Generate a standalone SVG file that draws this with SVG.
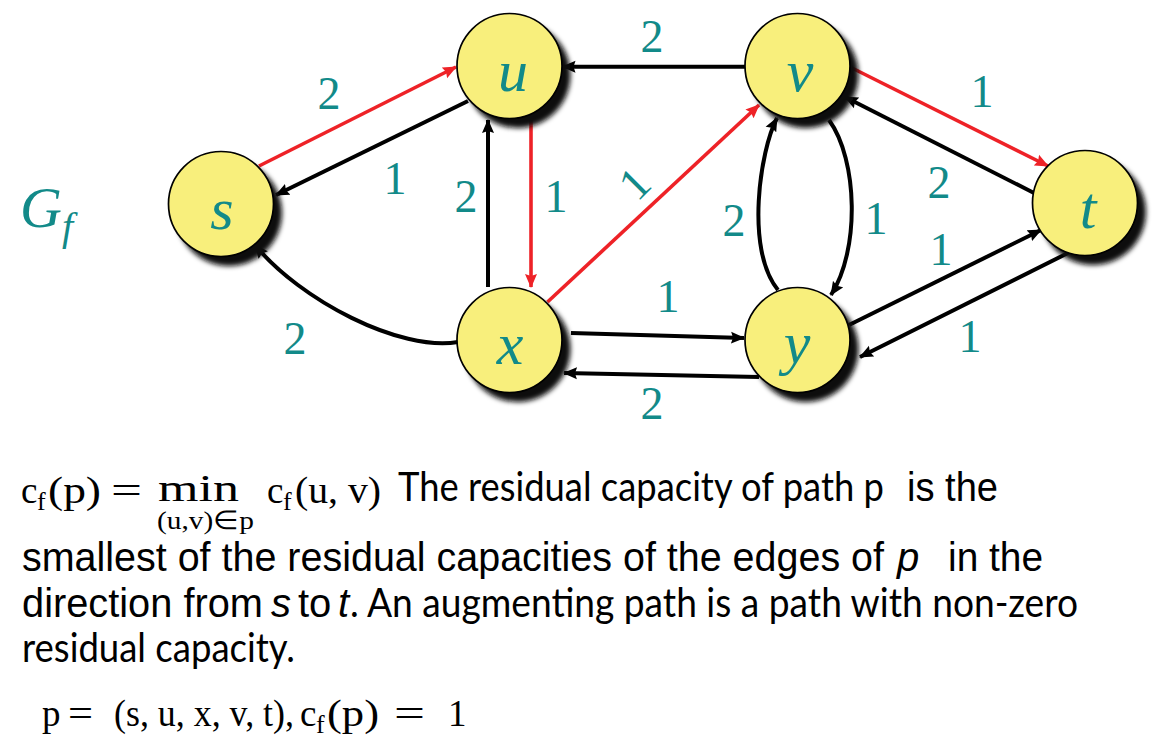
<svg xmlns="http://www.w3.org/2000/svg" width="1155" height="747" viewBox="0 0 1155 747">
<style>
.nd{fill:#F8EF7C;stroke:#000;stroke-width:1.7}
.sh{fill:#111;filter:url(#blur)}
.nl{font-family:"Liberation Serif",serif;font-style:italic;font-size:60px;fill:#128A89;text-anchor:middle}
.el{font-family:"Liberation Serif",serif;font-size:46px;fill:#128A89;text-anchor:middle}
.bk{fill:none;stroke:#000;stroke-width:4;marker-end:url(#ab)}
.rd{fill:none;stroke:#EE2227;stroke-width:3.6;marker-end:url(#ar)}
.cal{font-family:Lato,"Liberation Sans",sans-serif;font-size:40px;fill:#000}
.ari{font-family:"Liberation Sans",Arial,sans-serif;font-size:40px;fill:#000}
.it{font-style:italic}
.m{font-family:"Liberation Serif",serif;font-size:37px;fill:#000}
.ms{font-family:"Liberation Serif",serif;font-size:26px;fill:#000}
</style>
<defs>
<filter id="blur" x="-30%" y="-30%" width="160%" height="160%"><feGaussianBlur stdDeviation="2.6"/></filter>
<marker id="ab" markerUnits="userSpaceOnUse" markerWidth="15" markerHeight="13" viewBox="0 0 15 13" refX="13" refY="6.5" orient="auto"><path d="M0,0.5 L14,6.5 L0,12.5 L2,6.5 z" fill="#000"/></marker>
<marker id="ar" markerUnits="userSpaceOnUse" markerWidth="15" markerHeight="13" viewBox="0 0 15 13" refX="13" refY="6.5" orient="auto"><path d="M0,0.5 L14,6.5 L0,12.5 L2,6.5 z" fill="#EE2227"/></marker>
</defs>
<rect width="1155" height="747" fill="#fff"/>

<g id="title">
<text x="20" y="227" font-family="Liberation Serif,serif" font-style="italic" font-size="58" fill="#128A89">G</text>
<text x="62" y="240" font-family="Liberation Serif,serif" font-style="italic" font-size="40" fill="#128A89">f</text>
</g>

<g id="connectors">
<line class="rd" x1="259" y1="166" x2="456" y2="67"/>
<line class="bk" x1="468" y1="101" x2="276" y2="195"/>
<line class="bk" x1="488" y1="287" x2="488" y2="120"/>
<line class="rd" x1="531" y1="120" x2="531" y2="287"/>
<path class="bk" d="M458,342 C400,352 300,300 255,245"/>
<line class="rd" x1="547.5" y1="302" x2="759" y2="105"/>
<line class="bk" x1="745" y1="66.7" x2="562.5" y2="66.7"/>
<line class="rd" x1="850" y1="67" x2="1048" y2="166"/>
<line class="bk" x1="1034" y1="193" x2="845" y2="97"/>
<path class="bk" d="M778,290 C745,250 760,150 777,118"/>
<path class="bk" d="M829,120 C858,160 860,250 831,295"/>
<line class="bk" x1="571" y1="333" x2="744" y2="338"/>
<line class="bk" x1="759" y1="377" x2="564" y2="373"/>
<line class="bk" x1="849" y1="325" x2="1041" y2="230"/>
<line class="bk" x1="1068" y1="253" x2="860" y2="357"/>
</g>

<g id="edge-labels">
<text class="el" x="329" y="109">2</text>
<text class="el" x="395" y="194">1</text>
<text class="el" x="466" y="212">2</text>
<text class="el" x="556" y="212">1</text>
<text class="el" x="295" y="354">2</text>
<text class="el" x="634" y="199" transform="rotate(-45 634 183)">1</text>
<text class="el" x="652" y="52">2</text>
<text class="el" x="982" y="107">1</text>
<text class="el" x="939" y="198">2</text>
<text class="el" x="734" y="236">2</text>
<text class="el" x="876" y="234">1</text>
<text class="el" x="941" y="265">1</text>
<text class="el" x="970" y="352">1</text>
<text class="el" x="668" y="312">1</text>
<text class="el" x="652" y="419">2</text>
</g>

<g id="node-s"><circle class="sh" cx="229" cy="213" r="53"/><circle class="nd" cx="221" cy="204" r="52.5"/><text class="nl" x="222" y="229">s</text></g>
<g id="node-u"><circle class="sh" cx="517.5" cy="75" r="53"/><circle class="nd" cx="509.5" cy="66" r="52.5"/><text class="nl" x="513" y="91">u</text></g>
<g id="node-v"><circle class="sh" cx="805.5" cy="75" r="53"/><circle class="nd" cx="797.5" cy="66" r="52.5"/><text class="nl" x="800" y="91">v</text></g>
<g id="node-x"><circle class="sh" cx="517.5" cy="349" r="53"/><circle class="nd" cx="509.5" cy="340" r="52.5"/><text class="nl" x="510" y="364">x</text></g>
<g id="node-y"><circle class="sh" cx="805.5" cy="349" r="53"/><circle class="nd" cx="797.5" cy="340" r="52.5"/><text class="nl" x="797" y="363">y</text></g>
<g id="node-t"><circle class="sh" cx="1093" cy="212" r="53"/><circle class="nd" cx="1085" cy="203" r="52.5"/><text class="nl" x="1088" y="228">t</text></g>

<g id="caption">
<text class="m" x="21" y="503">c</text>
<text class="ms" x="37" y="510">f</text>
<text class="m" x="48" y="503" textLength="53" lengthAdjust="spacingAndGlyphs">(p)</text>
<text class="m" x="111" y="503" textLength="31" lengthAdjust="spacingAndGlyphs">=</text>
<text class="m" x="158" y="501" textLength="81" lengthAdjust="spacingAndGlyphs">min</text>
<text class="ms" x="157" y="529" textLength="97" lengthAdjust="spacingAndGlyphs">(u,v)∈p</text>
<text class="m" x="267" y="503">c</text>
<text class="ms" x="283" y="510">f</text>
<text class="m" x="295" y="503" textLength="86" lengthAdjust="spacingAndGlyphs">(u, v)</text>
<text class="cal" x="398" y="501" textLength="486" lengthAdjust="spacingAndGlyphs">The residual capacity of path p</text>
<text class="ari" x="907" y="501" textLength="91" lengthAdjust="spacingAndGlyphs">is the</text>

<text class="ari" x="22" y="571" textLength="862" lengthAdjust="spacingAndGlyphs">smallest of the residual capacities of the edges of</text>
<text class="ari it" x="897" y="571">p</text>
<text class="ari" x="948" y="571" textLength="95" lengthAdjust="spacingAndGlyphs">in the</text>

<text class="ari" x="22" y="617" textLength="241" lengthAdjust="spacingAndGlyphs">direction from</text>
<text class="ari it" x="271" y="617">s</text>
<text class="ari" x="298" y="617">to</text>
<text class="ari it" x="338" y="617">t</text>
<text class="cal" x="350" y="617" textLength="728" lengthAdjust="spacingAndGlyphs">. An augmenting path is a path with non-zero</text>
<text class="cal" x="22" y="662" textLength="273" lengthAdjust="spacingAndGlyphs">residual capacity.</text>

<text class="m" x="42" y="726">p</text>
<text class="m" x="68" y="726" textLength="25" lengthAdjust="spacingAndGlyphs">=</text>
<text class="m" x="114" y="726" textLength="180" lengthAdjust="spacingAndGlyphs">(s, u, x, v, t),</text>
<text class="m" x="300" y="726">c</text>
<text class="ms" x="316" y="733">f</text>
<text class="m" x="327" y="726" textLength="52" lengthAdjust="spacingAndGlyphs">(p)</text>
<text class="m" x="394" y="726" textLength="31" lengthAdjust="spacingAndGlyphs">=</text>
<text class="m" x="448" y="726">1</text>
</g>
</svg>
